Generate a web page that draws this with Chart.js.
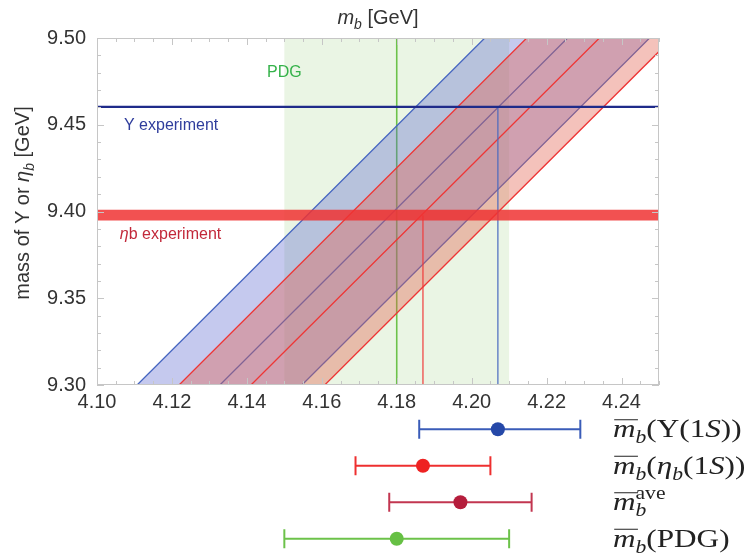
<!DOCTYPE html>
<html>
<head>
<meta charset="utf-8">
<script src="https://cdn.jsdelivr.net/npm/chart.js@4.4.1/dist/chart.umd.min.js"></script>
<style>
  html, body { margin: 0; padding: 0; background: #fff; }
  #wrap { position: relative; width: 748px; height: 558px; overflow: hidden; }
  #main { position: absolute; left: 0; top: 0; }
  #bars { position: absolute; left: 0; top: 400px; }
</style>
</head>
<body>
<div id="wrap">
  <canvas id="main" width="748" height="420"></canvas>
  <canvas id="bars" width="748" height="158"></canvas>
</div>
<script>
// ---- data ----
const xRange = [4.10, 4.25];
const xTicks = [4.10, 4.12, 4.14, 4.16, 4.18, 4.20, 4.22, 4.24];
const yTicks = [9.30, 9.35, 9.40, 9.45, 9.50];

// diagonal theory bands: m_b where each edge meets mass = 9.30 and 9.50
const bandMass = [9.30, 9.50];
const upsLowMb = [4.1107, 4.2035];
const upsMidMb = [4.1328, 4.2256];
const upsHighMb = [4.1547, 4.2475];
const etaLowMb = [4.1219, 4.2147];
const etaMidMb = [4.1411, 4.2341];
const etaHighMb = [4.1608, 4.2536];

// experiments
const upsExpMass = 9.4603;
const etaExpBand = [9.3948, 9.4010];

// m_b estimates (bottom panel): Upsilon(1S), eta_b(1S), average, PDG
const estCenter = [4.207, 4.187, 4.197, 4.180];
const estLow = [4.186, 4.169, 4.178, 4.150];
const estHigh = [4.229, 4.205, 4.216, 4.210];
const estLine = ["#3a5cb8", "#ee2f2f", "#c23650", "#6cc24a"];
const estDot = ["#2548a8", "#ee2222", "#b51d3c", "#66c044"];

// math labels of the estimates (i = italic, sub / sup = scripts, bar = overline)
const estLabels = [
  [{ t: "m", i: 1, bar: 1 }, { t: "b", i: 1, sub: 1 }, { t: "(\u03A5(1" }, { t: "S", i: 1 }, { t: "))" }],
  [{ t: "m", i: 1, bar: 1 }, { t: "b", i: 1, sub: 1 }, { t: "(" }, { t: "\u03B7", i: 1 }, { t: "b", i: 1, sub: 1 }, { t: "(1" }, { t: "S", i: 1 }, { t: "))" }],
  [{ t: "m", i: 1, bar: 1 }, { t: "b", i: 1, sub: 1, stay: 1 }, { t: "ave", sup: 1 }],
  [{ t: "m", i: 1, bar: 1 }, { t: "b", i: 1, sub: 1 }, { t: "(PDG)" }],
];

const SANS = '"Liberation Sans", Arial, sans-serif';
const SERIF = '"Liberation Serif", "Times New Roman", serif';

// ---- helpers ----
function line(xs, ys, opts) {
  return Object.assign({
    data: xs.map((v, k) => ({ x: v, y: ys[k] })),
    pointRadius: 0, borderWidth: 1.3, fill: false, tension: 0,
  }, opts);
}

function drawParts(ctx, parts, x, y) {
  for (const p of parts) {
    ctx.font = p.f;
    ctx.fillText(p.t, x, y + (p.dy || 0));
    x += ctx.measureText(p.t).width;
  }
}
function partsWidth(ctx, parts) {
  let w = 0;
  for (const p of parts) { ctx.font = p.f; w += ctx.measureText(p.t).width; }
  return w;
}

// frame with inward ticks, drawn over the bands
const framePlugin = {
  id: "frame",
  afterDatasetsDraw(chart) {
    const { ctx, chartArea: a, scales: { x, y } } = chart;
    ctx.save();
    ctx.strokeStyle = "#c6c6c6";
    ctx.lineWidth = 1;
    ctx.strokeRect(a.left + 0.5, a.top + 0.5, a.right - a.left - 1, a.bottom - a.top - 1);
    ctx.beginPath();
    for (let k = 0; k <= 30; k++) {
      const px = Math.round(x.getPixelForValue(xRange[0] + k * 0.005)) + 0.5;
      const len = k % 4 === 0 ? 7 : 4;
      ctx.moveTo(px, a.top); ctx.lineTo(px, a.top + len);
      ctx.moveTo(px, a.bottom); ctx.lineTo(px, a.bottom - len);
    }
    for (let k = 0; k <= 20; k++) {
      const py = Math.round(y.getPixelForValue(bandMass[0] + k * 0.01)) + 0.5;
      const len = k % 5 === 0 ? 7 : 4;
      ctx.moveTo(a.left, py); ctx.lineTo(a.left + len, py);
      ctx.moveTo(a.right, py); ctx.lineTo(a.right - len, py);
    }
    ctx.stroke();
    ctx.restore();
  },
};

// titles and in-plot labels
const textPlugin = {
  id: "texts",
  afterDraw(chart) {
    const { ctx, chartArea: a, scales: { x, y } } = chart;
    ctx.save();
    ctx.textBaseline = "alphabetic";
    ctx.fillStyle = "#333";

    const top = [
      { t: "m", f: "italic 20px " + SANS },
      { t: "b", f: "italic 14px " + SANS, dy: 5 },
      { t: " [GeV]", f: "20px " + SANS },
    ];
    drawParts(ctx, top, (a.left + a.right) / 2 - partsWidth(ctx, top) / 2, 24);

    const side = [
      { t: "mass of Y or ", f: "20px " + SANS },
      { t: "\u03B7", f: "italic 20px " + SANS },
      { t: "b", f: "italic 14px " + SANS, dy: 5 },
      { t: " [GeV]", f: "20px " + SANS },
    ];
    ctx.translate(29, 203);
    ctx.rotate(-Math.PI / 2);
    drawParts(ctx, side, -partsWidth(ctx, side) / 2, 0);
    ctx.setTransform(1, 0, 0, 1, 0, 0);

    ctx.textBaseline = "middle";
    ctx.font = "16px " + SANS;
    ctx.fillStyle = "#35b24a";
    ctx.textAlign = "center";
    ctx.fillText("PDG", x.getPixelForValue(estLow[3]), y.getPixelForValue(9.48));
    ctx.textAlign = "left";
    ctx.fillStyle = "#2f3d9c";
    ctx.fillText("Y experiment", x.getPixelForValue(4.1072), y.getPixelForValue(9.4493));
    ctx.fillStyle = "#c2283a";
    drawParts(ctx, [
      { t: "\u03B7", f: "italic 16px " + SANS },
      { t: "b experiment", f: "16px " + SANS },
    ], x.getPixelForValue(4.1061), y.getPixelForValue(9.3865));
    ctx.restore();
  },
};

// ---- main panel ----
const datasets = [
  // 0-2 PDG band
  line([estLow[3], estLow[3]], bandMass, { indexAxis: "y", borderWidth: 0, fill: 1, backgroundColor: "rgba(150,205,120,0.2)" }),
  line([estHigh[3], estHigh[3]], bandMass, { indexAxis: "y", borderWidth: 0 }),
  line([estCenter[3], estCenter[3]], bandMass, { indexAxis: "y", borderColor: "#6cc24a", borderWidth: 1.6 }),
  // 3-5 Upsilon(1S) theory band
  line(upsLowMb, bandMass, { indexAxis: "y", borderColor: "#4565c0", fill: 5, backgroundColor: "rgba(90,100,205,0.35)" }),
  line(upsMidMb, bandMass, { indexAxis: "y", borderColor: "#4565c0" }),
  line(upsHighMb, bandMass, { indexAxis: "y", borderColor: "#4565c0" }),
  // 6-8 eta_b(1S) theory band
  line(etaLowMb, bandMass, { indexAxis: "y", borderColor: "#ee3535", fill: 8, backgroundColor: "rgba(225,95,75,0.38)" }),
  line(etaMidMb, bandMass, { indexAxis: "y", borderColor: "#ee3535" }),
  line(etaHighMb, bandMass, { indexAxis: "y", borderColor: "#ee3535" }),
  // 9-10 drop lines to the axis
  line([estCenter[1], estCenter[1]], [bandMass[0], (etaExpBand[0] + etaExpBand[1]) / 2], { indexAxis: "y", borderColor: "#f03a3a", borderWidth: 1.2 }),
  line([estCenter[0], estCenter[0]], [bandMass[0], upsExpMass], { indexAxis: "y", borderColor: "#4a6ac0", borderWidth: 1.2 }),
  // 11-12 eta_b experiment band
  line(xRange, [etaExpBand[0], etaExpBand[0]], { indexAxis: "x", borderWidth: 0, fill: 12, backgroundColor: "rgba(240,50,50,0.85)" }),
  line(xRange, [etaExpBand[1], etaExpBand[1]], { indexAxis: "x", borderWidth: 0 }),
  // 13 Upsilon experiment
  line(xRange, [upsExpMass, upsExpMass], { indexAxis: "x", borderColor: "#1f2b8a", borderWidth: 2.4 }),
];
datasets.forEach((d, k) => { d.order = 100 - k; });

new Chart(document.getElementById("main"), {
  type: "line",
  data: { datasets },
  options: {
    responsive: false,
    animation: false,
    events: [],
    layout: { padding: { top: 38, right: 89, left: 0, bottom: 0 } },
    plugins: { legend: { display: false }, tooltip: { enabled: false } },
    scales: {
      x: {
        type: "linear", min: xRange[0], max: xRange[1],
        afterBuildTicks: (s) => { s.ticks = xTicks.map((v) => ({ value: v })); },
        afterFit: (s) => { s.height = 35; },
        grid: { display: false }, border: { display: false },
        ticks: {
          font: { family: SANS, size: 20 }, color: "#333", padding: -3,
          maxRotation: 0, autoSkip: false, callback: (v) => Number(v).toFixed(2),
        },
      },
      y: {
        type: "linear", min: bandMass[0], max: bandMass[1],
        afterBuildTicks: (s) => { s.ticks = yTicks.map((v) => ({ value: v })); },
        afterFit: (s) => { s.width = 97; },
        grid: { display: false }, border: { display: false },
        ticks: {
          font: { family: SANS, size: 20 }, color: "#333", padding: 3,
          callback: (v) => Number(v).toFixed(2),
        },
      },
    },
  },
  plugins: [framePlugin, textPlugin],
});

// ---- bottom panel: estimates with error bars ----
const barSets = [];
estCenter.forEach((c, k) => {
  barSets.push({
    data: [{ x: estLow[k], y: k }, { x: estHigh[k], y: k }],
    borderColor: estLine[k], borderWidth: 2,
    pointStyle: "line", pointRotation: 90, pointRadius: 9.5,
    pointBorderWidth: 2, pointBorderColor: estLine[k],
  });
  barSets.push({
    data: [{ x: c, y: k }], showLine: false,
    pointRadius: 7, pointBorderWidth: 0, pointBackgroundColor: estDot[k], order: -1,
  });
});

const labelPlugin = {
  id: "estLabels",
  afterDraw(chart) {
    const { ctx, scales: { y } } = chart;
    ctx.save();
    ctx.fillStyle = "#222";
    ctx.strokeStyle = "#222";
    ctx.lineWidth = 1;
    ctx.textBaseline = "alphabetic";
    estLabels.forEach((parts, k) => {
      const base = y.getPixelForValue(k) + 8;
      ctx.setTransform(1.2, 0, 0, 1, 613, 0);
      let x = 0;
      for (const p of parts) {
        const size = p.sub || p.sup ? 18 : 26;
        ctx.font = (p.i ? "italic " : "") + size + "px " + SERIF;
        const dy = p.sub ? 6 : p.sup ? -11 : 0;
        const w = ctx.measureText(p.t).width;
        ctx.fillText(p.t, x, base + dy);
        if (p.bar) {
          ctx.beginPath();
          ctx.moveTo(x + 1, base - 17.5); ctx.lineTo(x + w + 2, base - 17.5);
          ctx.stroke();
        }
        if (!p.stay) x += w;
      }
    });
    ctx.restore();
  },
};

new Chart(document.getElementById("bars"), {
  type: "line",
  data: { datasets: barSets },
  options: {
    responsive: false,
    animation: false,
    events: [],
    layout: { autoPadding: false, padding: { top: 11, right: 89, left: 97, bottom: 1 } },
    plugins: { legend: { display: false }, tooltip: { enabled: false } },
    scales: {
      x: { type: "linear", min: xRange[0], max: xRange[1], display: false },
      y: { type: "linear", min: -0.5, max: 3.5, reverse: true, display: false },
    },
  },
  plugins: [labelPlugin],
});
</script>
</body>
</html>
